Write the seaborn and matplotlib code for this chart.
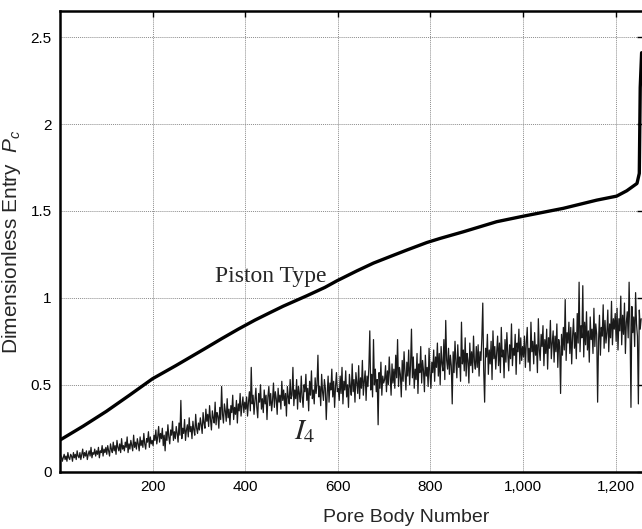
import matplotlib
matplotlib.use("Agg")
import numpy as np
import pandas as pd
import matplotlib.pyplot as plt
import seaborn as sns
from matplotlib.ticker import FuncFormatter

# ---- data ----
piston_x = [0, 50, 100, 150, 200, 250, 277, 313, 349, 385, 421, 452, 482,
            533, 572, 598, 641, 677, 720, 749, 792, 821, 871, 943, 1001, 1087,
            1159, 1202, 1224, 1246, 1251, 1253, 1256]
piston_y = [0.182, 0.262, 0.347, 0.440, 0.535, 0.610, 0.652, 0.708,
            0.765, 0.820, 0.872, 0.913, 0.952, 1.012, 1.060, 1.098, 1.155, 1.200,
            1.245, 1.275, 1.318, 1.342, 1.380, 1.438, 1.470, 1.515, 1.562, 1.585,
            1.616, 1.658, 1.716, 2.210, 2.410]

i4_first = 1
i4_step = 2
i4_values = [
    # 1-99
    0.07, 0.09, 0.06, 0.08, 0.10, 0.07, 0.09, 0.06, 0.11, 0.08,
    0.07, 0.10, 0.09, 0.06, 0.11, 0.08, 0.10, 0.07, 0.12, 0.09,
    0.08, 0.11, 0.07, 0.10, 0.13, 0.08, 0.11, 0.09, 0.12, 0.07,
    0.10, 0.12, 0.09, 0.14, 0.08, 0.11, 0.10, 0.13, 0.09, 0.12,
    0.10, 0.14, 0.08, 0.12, 0.11, 0.15, 0.09, 0.13, 0.11, 0.14,
    # 101-199
    0.10, 0.15, 0.12, 0.09, 0.16, 0.13, 0.11, 0.17, 0.12, 0.15,
    0.10, 0.18, 0.14, 0.12, 0.16, 0.11, 0.19, 0.13, 0.15, 0.12,
    0.17, 0.14, 0.20, 0.11, 0.16, 0.13, 0.18, 0.15, 0.12, 0.21,
    0.14, 0.17, 0.13, 0.19, 0.16, 0.12, 0.20, 0.15, 0.18, 0.14,
    0.22, 0.16, 0.13, 0.19, 0.17, 0.23, 0.14, 0.20, 0.16, 0.18,
    # 201-299
    0.15, 0.21, 0.18, 0.24, 0.16, 0.20, 0.26, 0.17, 0.22, 0.19,
    0.25, 0.15, 0.21, 0.12, 0.23, 0.18, 0.27, 0.20, 0.16, 0.24,
    0.21, 0.29, 0.18, 0.23, 0.19, 0.26, 0.22, 0.17, 0.28, 0.21,
    0.41, 0.19, 0.25, 0.22, 0.30, 0.18, 0.24, 0.27, 0.20, 0.31,
    0.23, 0.26, 0.19, 0.29, 0.24, 0.21, 0.33, 0.25, 0.22, 0.28,
    # 301-399
    0.24, 0.31, 0.27, 0.22, 0.34, 0.28, 0.25, 0.36, 0.29, 0.33,
    0.26, 0.38, 0.30, 0.24, 0.35, 0.31, 0.28, 0.40, 0.27, 0.34,
    0.32, 0.25, 0.37, 0.30, 0.49, 0.33, 0.28, 0.39, 0.35, 0.29,
    0.42, 0.31, 0.36, 0.27, 0.38, 0.34, 0.44, 0.30, 0.37, 0.33,
    0.41, 0.28, 0.39, 0.35, 0.45, 0.32, 0.38, 0.43, 0.34, 0.40,
    # 401-499
    0.36, 0.43, 0.32, 0.40, 0.46, 0.35, 0.60, 0.39, 0.44, 0.33,
    0.41, 0.48, 0.37, 0.31, 0.45, 0.40, 0.50, 0.36, 0.42, 0.34,
    0.47, 0.39, 0.44, 0.30, 0.43, 0.49, 0.38, 0.45, 0.35, 0.41,
    0.51, 0.37, 0.46, 0.42, 0.33, 0.48, 0.40, 0.44, 0.36, 0.52,
    0.41, 0.47, 0.38, 0.45, 0.32, 0.49, 0.43, 0.39, 0.53, 0.42,
    # 501-599
    0.44, 0.60, 0.38, 0.47, 0.42, 0.53, 0.36, 0.49, 0.45, 0.40,
    0.55, 0.43, 0.37, 0.50, 0.46, 0.56, 0.41, 0.48, 0.35, 0.52,
    0.44, 0.58, 0.42, 0.47, 0.39, 0.54, 0.45, 0.50, 0.67, 0.43,
    0.49, 0.38, 0.56, 0.46, 0.41, 0.53, 0.48, 0.30, 0.45, 0.55,
    0.40, 0.51, 0.47, 0.59, 0.43, 0.52, 0.37, 0.49, 0.57, 0.46,
    # 601-699
    0.48, 0.41, 0.55, 0.45, 0.60, 0.39, 0.52, 0.47, 0.58, 0.43,
    0.50, 0.37, 0.56, 0.49, 0.44, 0.62, 0.46, 0.53, 0.40, 0.57,
    0.51, 0.45, 0.61, 0.42, 0.54, 0.48, 0.64, 0.44, 0.52, 0.58,
    0.41, 0.55, 0.49, 0.60, 0.81, 0.47, 0.56, 0.43, 0.76, 0.50,
    0.59, 0.46, 0.53, 0.27, 0.57, 0.48, 0.63, 0.44, 0.55, 0.51,
    # 701-799
    0.53, 0.61, 0.46, 0.58, 0.50, 0.66, 0.55, 0.44, 0.62, 0.51,
    0.59, 0.48, 0.67, 0.54, 0.76, 0.49, 0.60, 0.56, 0.43, 0.64,
    0.52, 0.69, 0.57, 0.47, 0.63, 0.55, 0.70, 0.50, 0.61, 0.82,
    0.54, 0.66, 0.48, 0.59, 0.53, 0.68, 0.45, 0.62, 0.57, 0.72,
    0.51, 0.64, 0.58, 0.46, 0.67, 0.55, 0.60, 0.49, 0.71, 0.56,
    # 801-899
    0.48, 0.63, 0.57, 0.70, 0.52, 0.66, 0.60, 0.74, 0.55, 0.68,
    0.50, 0.72, 0.62, 0.58, 0.76, 0.53, 0.87, 0.64, 0.59, 0.71,
    0.56, 0.67, 0.61, 0.39, 0.69, 0.57, 0.75, 0.63, 0.54, 0.73,
    0.60, 0.66, 0.52, 0.86, 0.62, 0.70, 0.58, 0.77, 0.55, 0.68,
    0.64, 0.51, 0.74, 0.61, 0.69, 0.57, 0.78, 0.63, 0.59, 0.72,
    # 901-999
    0.60, 0.73, 0.55, 0.69, 0.64, 0.77, 0.97, 0.58, 0.40, 0.71,
    0.66, 0.79, 0.56, 0.70, 0.62, 0.75, 0.53, 0.81, 0.65, 0.72,
    0.59, 0.68, 0.78, 0.61, 0.74, 0.57, 0.83, 0.66, 0.70, 0.54,
    0.76, 0.63, 0.80, 0.68, 0.58, 0.73, 0.65, 0.85, 0.61, 0.71,
    0.67, 0.79, 0.56, 0.74, 0.69, 0.82, 0.62, 0.77, 0.64, 0.72,
    # 1001-1099
    0.66, 0.78, 0.60, 0.74, 0.83, 0.63, 0.71, 0.58, 0.86, 0.69,
    0.75, 0.62, 0.80, 0.67, 0.73, 0.57, 0.88, 0.70, 0.64, 0.79,
    0.72, 0.84, 0.61, 0.76, 0.68, 0.82, 0.59, 0.77, 0.71, 0.87,
    0.65, 0.74, 0.81, 0.63, 0.78, 0.69, 0.85, 0.60, 0.76, 0.72,
    0.45, 0.79, 0.67, 0.83, 0.70, 0.99, 0.64, 0.80, 0.74, 0.86,
    # 1101-1199
    0.68, 0.83, 0.62, 0.78, 0.88, 0.71, 0.80, 0.65, 0.91, 0.74,
    1.09, 0.69, 0.84, 0.77, 1.07, 0.66, 0.86, 0.73, 0.92, 0.70,
    0.81, 0.63, 0.89, 0.76, 0.82, 0.68, 0.94, 0.72, 0.85, 0.79,
    0.40, 0.75, 0.90, 0.67, 0.83, 0.78, 0.96, 0.71, 0.87, 0.74,
    0.80, 0.93, 0.69, 0.85, 0.77, 0.98, 0.73, 0.88, 0.82, 0.91,
    # 1201-1255
    0.75, 0.94, 0.70, 0.88, 0.81, 1.01, 0.73, 0.90, 0.79, 0.97,
    0.68, 0.86, 0.92, 0.77, 1.09, 0.83, 0.37, 0.95, 0.80, 0.89,
    0.72, 1.03, 0.85, 0.78, 0.39, 0.93, 0.82, 0.88,
]
i4_x = list(range(i4_first, i4_first + i4_step * len(i4_values), i4_step))

x_ticks = [200, 400, 600, 800, 1000, 1200]
y_ticks = [0, 0.5, 1, 1.5, 2, 2.5]
y_tick_labels = ["0", "0.5", "1", "1.5", "2", "2.5"]

piston_df = pd.DataFrame({"x": piston_x, "y": piston_y})
i4_df = pd.DataFrame({"x": i4_x, "y": i4_values})

# ---- style ----
sns.set_theme(style="white")
plt.rcParams["font.family"] = ["Liberation Sans", "DejaVu Sans"]
plt.rcParams["mathtext.fontset"] = "custom"
plt.rcParams["mathtext.it"] = "Liberation Sans:italic"
plt.rcParams["mathtext.rm"] = "Liberation Sans"

W, H = 642, 529
fig = plt.figure(figsize=(W / 100, H / 100), dpi=100)
left, right, top, bottom = 60, 643, 11, 471.7
ax = fig.add_axes([left / W, 1 - bottom / H, (right - left) / W, (bottom - top) / H])

sns.lineplot(data=i4_df, x="x", y="y", ax=ax, color="#1a1a1a", linewidth=0.9,
             estimator=None, sort=False, zorder=3)
sns.lineplot(data=piston_df, x="x", y="y", ax=ax, color="black", linewidth=2.4,
             estimator=None, sort=False, zorder=4)

ax.set_xlim(0, 1259)
ax.set_ylim(0, 2.65)
ax.set_xticks(x_ticks)
ax.xaxis.set_major_formatter(FuncFormatter(lambda v, p: f"{int(v):,}"))
ax.set_yticks(y_ticks)
ax.set_yticklabels(y_tick_labels)

ax.grid(True, linestyle=(0, (1, 1)), color="#8c8c8c", linewidth=0.7, zorder=0)
ax.tick_params(direction="in", length=4, width=1, top=True, right=True,
               labelsize=11, colors="black")
ax.tick_params(axis="x", pad=6)
ax.tick_params(axis="y", pad=6)
for side in ["left", "bottom", "top", "right"]:
    ax.spines[side].set_linewidth(1.8)
    ax.spines[side].set_color("black")

ax.set_xlabel("Pore Body Number", fontsize=14)
ax.set_ylabel("Dimensionless Entry  $P_c$", fontsize=15)
ax.xaxis.set_label_coords(0.593, -0.081)
ax.yaxis.set_label_coords(-0.064, 0.5)

ax.text(335, 1.093, "Piston Type", fontsize=17, family="Liberation Serif",
        ha="left", va="baseline", zorder=5)
ax.text(505, 0.188, "$I_4$", fontsize=21, math_fontfamily="stix",
        ha="left", va="baseline", zorder=5)

fig.savefig("out.png", dpi=100)
